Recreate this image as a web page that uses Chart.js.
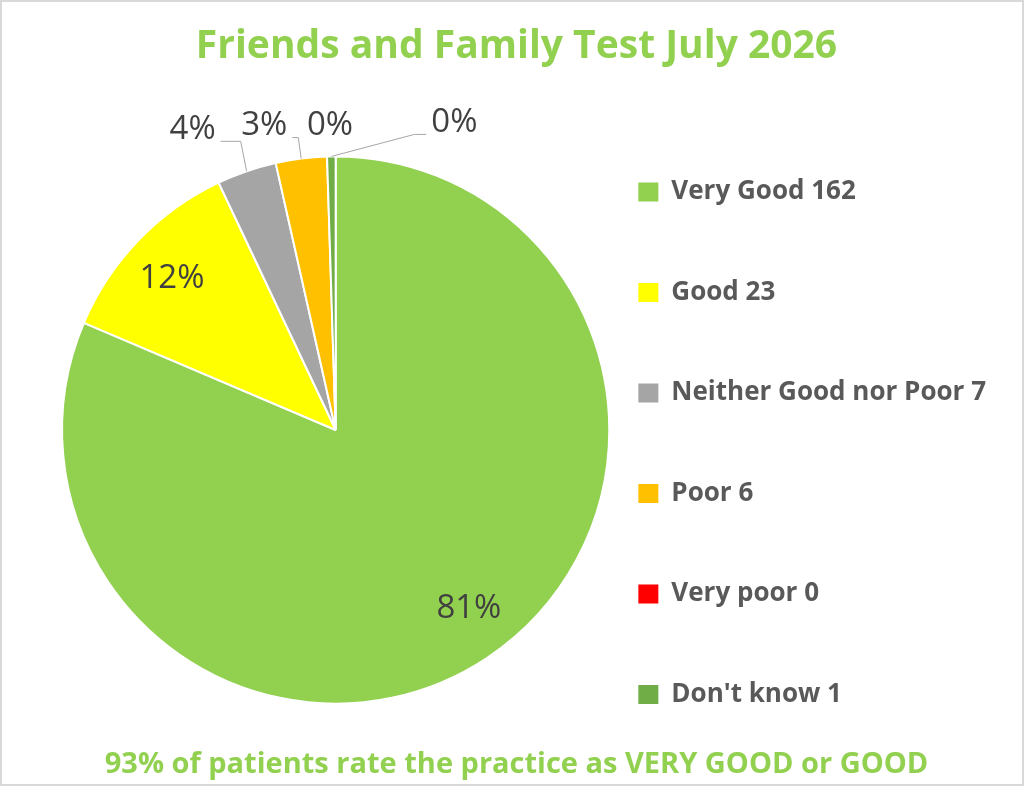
<!DOCTYPE html>
<html><head><meta charset="utf-8">
<script src="https://cdn.jsdelivr.net/npm/chart.js@4/dist/chart.umd.min.js"></script>
<style>html,body{margin:0;padding:0;background:#fff}#wrap{width:1024px;height:786px;position:relative}</style>
</head><body><div id="wrap"><canvas id="c"></canvas></div>
<script>
const categories = ['Very Good', 'Good', 'Neither Good nor Poor', 'Poor', 'Very poor', "Don't know"];
const counts = [162, 23, 7, 6, 0, 1];
const percentLabels = ['81%', '12%', '4%', '3%', '0%', '0%'];
const colors = ['#92D050', '#FFFF00', '#A5A5A5', '#FFC000', '#FF0000', '#70AD47'];
const titleText = 'Friends and Family Test July 2026';
const subtitleText = '93% of patients rate the practice as VERY GOOD or GOOD';

const FONT = "'Open Sans', sans-serif";

const framePlugin = {
  id: 'frame',
  beforeDraw(chart) {
    const c = chart.ctx;
    c.save();
    c.fillStyle = '#fff';
    c.fillRect(0, 0, chart.width, chart.height);
    c.strokeStyle = '#D9D9D9';
    c.lineWidth = 2;
    c.strokeRect(1, 1, chart.width - 2, chart.height - 2);
    c.restore();
  }
};

const labelPlugin = {
  id: 'pctLabels',
  afterDatasetsDraw(chart, args, opts) {
    const ctx = chart.ctx;
    const meta = chart.getDatasetMeta(0);
    ctx.save();
    ctx.font = opts.size + 'px ' + FONT;
    ctx.fillStyle = opts.color;
    ctx.textAlign = 'center';
    ctx.textBaseline = 'middle';
    meta.data.forEach((arc, i) => {
      const p = arc.getProps(['x', 'y', 'startAngle', 'endAngle', 'outerRadius'], true);
      const mid = (p.startAngle + p.endAngle) / 2;
      const text = percentLabels[i];
      const cfg = opts.items[i];
      const rr = cfg.inside ? p.outerRadius * cfg.r : p.outerRadius;
      const ax = p.x + Math.cos(mid) * rr, ay = p.y + Math.sin(mid) * rr;
      const lx = ax + cfg.dx, ly = ay + cfg.dy;
      if (cfg.leader) {
        const hw = ctx.measureText(text).width / 2;
        const side = ax < lx ? -1 : 1;
        const sx = lx + side * (hw + 5), sy = ly + 12;
        const ex = sx + side * cfg.elbow;
        ctx.beginPath();
        ctx.moveTo(sx, sy); ctx.lineTo(ex, sy); ctx.lineTo(ax, ay);
        ctx.strokeStyle = '#A6A6A6'; ctx.lineWidth = 1; ctx.stroke();
      }
      ctx.fillText(text, lx, ly);
    });
    ctx.restore();
  }
};

new Chart(document.getElementById('c'), {
  type: 'pie',
  data: {
    labels: categories,
    datasets: [{ data: counts, backgroundColor: colors, borderColor: '#ffffff', borderWidth: 2, hoverOffset: 0 }]
  },
  options: {
    responsive: true,
    maintainAspectRatio: false,
    animation: false,
    layout: { padding: { left: 37, right: 28, top: 0, bottom: 0 } },
    plugins: {
      title: { display: true, text: titleText, color: '#92D050', font: { family: FONT, size: 39, weight: 'bold' }, padding: { top: 23.8, bottom: 84.8 } },
      subtitle: { display: true, position: 'bottom', text: subtitleText, color: '#92D050', font: { family: FONT, size: 29, weight: 'bold' }, padding: { top: 43, bottom: 3.6 } },
      legend: {
        position: 'right', align: 'start', fullSize: true,
        title: { display: true, text: '', padding: 0, font: { size: 10, lineHeight: '175px' } },
        labels: {
          color: '#595959',
          font: { family: FONT, size: 26, weight: 'bold', lineHeight: '96.5px' },
          boxWidth: 20, boxHeight: 19, padding: 4,
          generateLabels(chart) {
            return Chart.overrides.pie.plugins.legend.labels.generateLabels(chart)
              .map((it, i) => Object.assign({}, it, { text: [categories[i] + ' ' + counts[i]], lineWidth: 0 }));
          }
        }
      },
      tooltip: { enabled: false },
      pctLabels: {
        size: 33, color: '#404040',
        items: [
          { inside: true, r: 0.81, dx: 11, dy: -6 },
          { inside: true, r: 0.81, dx: -4, dy: 2 },
          { dx: -54, dy: -42, leader: true, elbow: 20 },
          { dx: -37, dy: -33, leader: true, elbow: 6 },
          { dx: 3, dy: -31, leader: false },
          { dx: 123, dy: -34, leader: true, elbow: 12 }
        ]
      }
    }
  },
  plugins: [framePlugin, labelPlugin]
});
</script></body></html>
